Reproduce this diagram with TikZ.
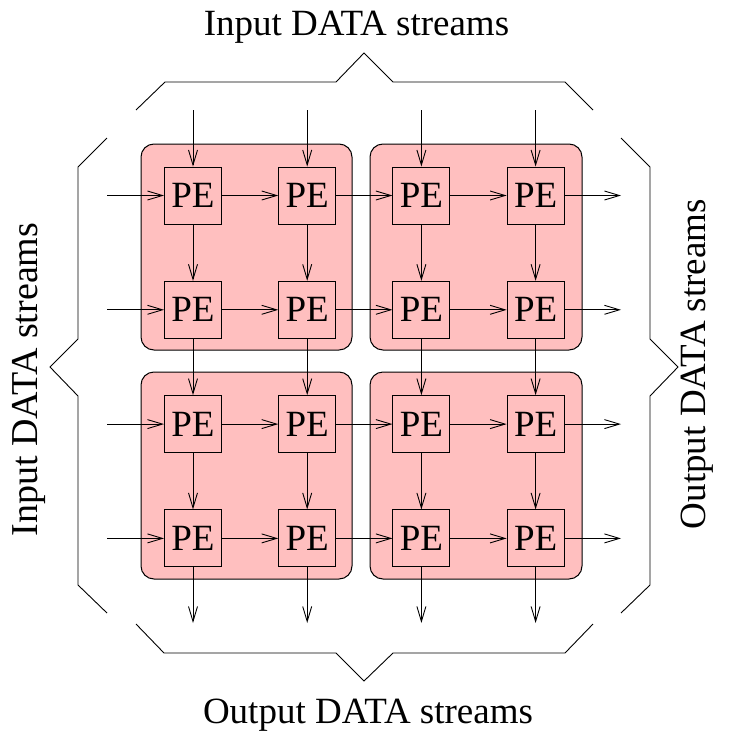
\documentclass[tikz,border=0pt]{standalone}
\usepackage{fontspec}
\setmainfont{Liberation Serif}
\usetikzlibrary{arrows.meta}
\definecolor{blockpink}{RGB}{255,191,191}
\begin{document}
\begin{tikzpicture}[x=1pt,y=-1pt,
  block/.style={draw=black,fill=blockpink,rounded corners=13pt,line width=1pt},
  pebox/.style={draw=black,fill=blockpink,line width=0.9pt,minimum width=57pt,minimum height=57pt,inner sep=0pt,font=\fontsize{37}{40}\selectfont},
  flow/.style={draw=black,line width=0.9pt,-{Straight Barb[length=15pt,width=9pt,line width=0.9pt]}},
  brace/.style={draw=black,line width=0.9pt,line join=miter},
  label/.style={font=\fontsize{37}{40}\selectfont,inner sep=0pt}]
\useasboundingbox (0,0) rectangle (733,736);
% blocks
\path[block] (141,144) rectangle (352,350);
\path[block] (370,144) rectangle (582,350);
\path[block] (141,372) rectangle (352,579);
\path[block] (370,372) rectangle (582,579);
% PE nodes
\foreach \i/\x in {0/193,1/307.2,2/421.4,3/535.6}{
  \foreach \j/\y in {0/195.5,1/309.8,2/424.1,3/538.4}{
    \node[pebox] (pe-\i-\j) at (\x,\y) {PE};
  }
  \coordinate (top-\i) at (\x,110);
  \coordinate (bot-\i) at (\x,623);
}
\foreach \j/\y in {0/195.5,1/309.8,2/424.1,3/538.4}{
  \coordinate (left-\j) at (107,\y);
  \coordinate (right-\j) at (621,\y);
}
% input and output arrows
\foreach \i in {0,1,2,3}{
  \draw[flow] (top-\i) -- (pe-\i-0.north);
  \draw[flow] (pe-\i-3.south) -- (bot-\i);
}
\foreach \j in {0,1,2,3}{
  \draw[flow] (left-\j) -- (pe-0-\j.west);
  \draw[flow] (pe-3-\j.east) -- (right-\j);
}
% internal arrows
\foreach \a/\b in {0/1,1/2,2/3}{
  \foreach \k in {0,1,2,3}{
    \draw[flow] (pe-\a-\k.east) -- (pe-\b-\k.west);
    \draw[flow] (pe-\k-\a.south) -- (pe-\k-\b.north);
  }
}
% braces
\draw[brace] (136,110) -- (165,82) -- (336,82) -- (364,53) -- (393,82) -- (565,82) -- (593,110);
\draw[brace] (136,624) -- (164,653) -- (336,653) -- (364,681) -- (393,653) -- (565,653) -- (593,624);
\draw[brace] (107,138) -- (78,167) -- (78,339) -- (50,367) -- (78,396) -- (78,585) -- (107,613);
\draw[brace] (621,138) -- (650,167) -- (650,339) -- (678,367) -- (650,396) -- (650,585) -- (621,613);
% labels
\node[label,anchor=base] (tin) at (356.5,35) {Input DATA streams};
\node[label,anchor=base] (bout) at (368,723) {Output DATA streams};
\node[label,anchor=base,rotate=90,font=\fontsize{38}{40}\selectfont] (lin) at (37,379.5) {Input DATA streams};
\node[label,anchor=base,rotate=90] (rout) at (705,364) {Output DATA streams};
\end{tikzpicture}
\end{document}
